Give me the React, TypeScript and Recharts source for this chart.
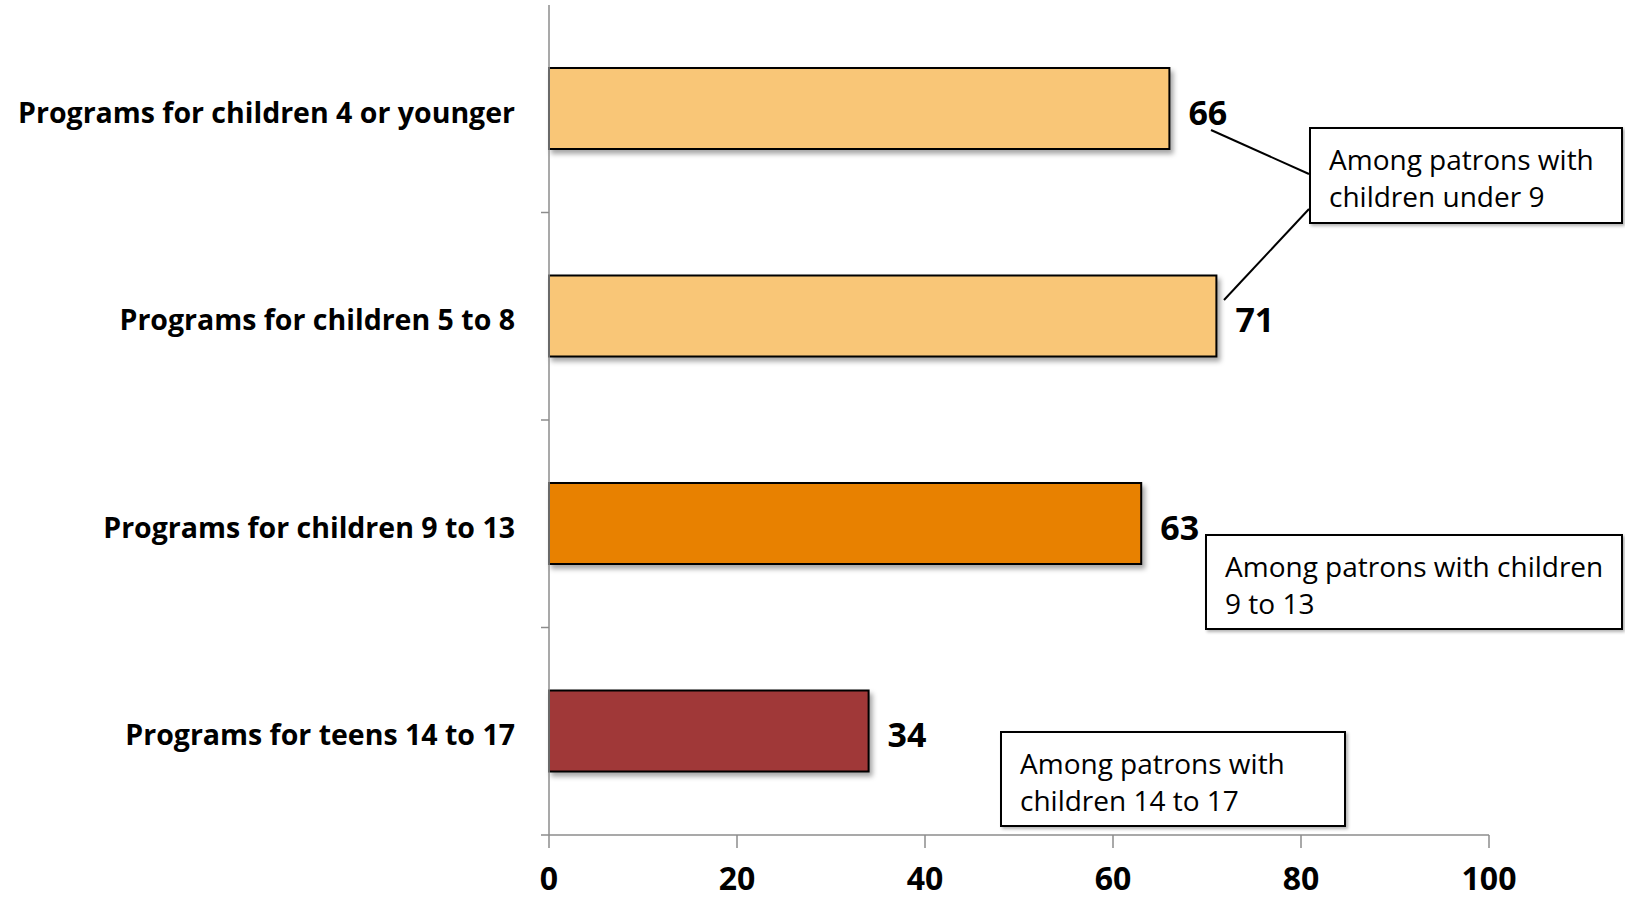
import React from 'react';
import { BarChart, Bar, XAxis, YAxis, Cell, LabelList } from 'recharts';

const categories = [
  'Programs for children 4 or younger',
  'Programs for children 5 to 8',
  'Programs for children 9 to 13',
  'Programs for teens 14 to 17',
];
const values = [66, 71, 63, 34];
const barColors = ['#F9C677', '#F9C677', '#E88100', '#A03837'];
const xTicks = [0, 20, 40, 60, 80, 100];

const notes = [
  { text: ['Among patrons with', 'children under 9'], left: 1309, top: 127, width: 314, height: 97 },
  { text: ['Among patrons with children', '9 to 13'], left: 1205, top: 534, width: 418, height: 96 },
  { text: ['Among patrons with', 'children 14 to 17'], left: 1000, top: 731, width: 346, height: 96 },
];

const chartData = categories.map((name, i) => ({ name, value: values[i] }));

const W = 1625;
const H = 901;
const margin = { top: 5, right: 136, bottom: 0, left: 0 };
const xAxisHeight = 66;
const yAxisWidth = 549;
const band = (H - margin.top - margin.bottom - xAxisHeight) / categories.length;
const font = '"Open Sans", sans-serif';

// category label plus a small tick at the lower edge of each band
const YTick = (props: any) => {
  const { x, y, payload } = props;
  const axisX = yAxisWidth;
  return (
    <g>
      <line x1={axisX - 8} x2={axisX} y1={y + band / 2} y2={y + band / 2} stroke="#8c8c8c" strokeWidth={1.5} />
      <text x={x - 26} y={y + 3} textAnchor="end" dominantBaseline="central" fontFamily={font}
        fontWeight={700} fontSize={28.5} fill="#000">
        {payload.value}
      </text>
    </g>
  );
};

// tick labels sit close to the bottom edge, as in the source image
const XTick = (props: any) => {
  const { x, payload } = props;
  return (
    <text x={x} y={H - 11} textAnchor="middle" fontFamily={font}
      fontWeight={700} fontSize={32} fill="#000">
      {payload.value}
    </text>
  );
};

const renderValue = (props: any) => {
  const { x, y, width, height, value } = props;
  return (
    <text x={x + width + 19} y={y + height / 2 + 3} textAnchor="start" dominantBaseline="central"
      fontFamily={font} fontWeight={700} fontSize={34} fill="#000">
      {value}
    </text>
  );
};

export default function App() {
  return (
    <div style={{ position: 'absolute', left: 0, top: 0, width: W, height: H, background: '#fff' }}>
      <BarChart width={W} height={H} data={chartData} layout="vertical" margin={margin}>
        <defs>
          <filter id="barShadow" x="-5%" y="-20%" width="115%" height="150%">
            <feDropShadow dx="3" dy="4" stdDeviation="2.5" floodColor="#000" floodOpacity="0.35" />
          </filter>
        </defs>
        <XAxis type="number" domain={[0, 100]} ticks={xTicks} height={xAxisHeight}
          axisLine={{ stroke: '#8c8c8c', strokeWidth: 1.5 }} tickLine={{ stroke: '#8c8c8c', strokeWidth: 1.5 }}
          tickSize={13} tick={<XTick />} interval={0} />
        <YAxis type="category" dataKey="name" width={yAxisWidth}
          axisLine={{ stroke: '#8c8c8c', strokeWidth: 1.5 }} tickLine={false} tick={<YTick />} interval={0} />
        <Bar dataKey="value" barSize={81} stroke="#000" strokeWidth={2} isAnimationActive={false}>
          {chartData.map((entry, i) => (
            <Cell key={`cell-${i}`} fill={barColors[i]} filter="url(#barShadow)" />
          ))}
          <LabelList dataKey="value" content={renderValue} />
        </Bar>
      </BarChart>

      {/* connectors from the two top labels to the first note */}
      <svg width={W} height={H} style={{ position: 'absolute', left: 0, top: 0, pointerEvents: 'none' }}>
        <line x1={1211} y1={130} x2={1309} y2={174} stroke="#000" strokeWidth={2} />
        <line x1={1224} y1={300} x2={1309} y2={209} stroke="#000" strokeWidth={2} />
      </svg>

      {notes.map((n, i) => (
        <div key={i} style={{
          position: 'absolute', left: n.left, top: n.top, width: n.width, height: n.height,
          boxSizing: 'border-box', border: '2px solid #000', background: '#fff',
          boxShadow: '2px 2px 3px rgba(0,0,0,0.3)', padding: '12px 0 0 18px',
          fontFamily: font, fontSize: 28, lineHeight: '37px', color: '#000', whiteSpace: 'nowrap',
        }}>
          {n.text.map((t, j) => <div key={j}>{t}</div>)}
        </div>
      ))}
    </div>
  );
}
